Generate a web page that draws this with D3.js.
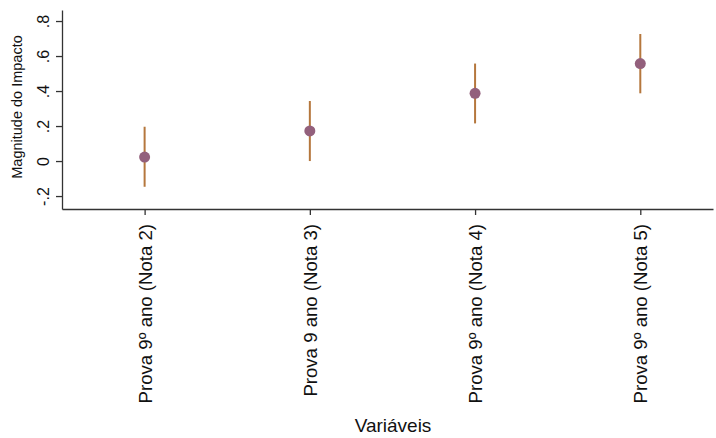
<!DOCTYPE html>
<html><head><meta charset="utf-8">
<script src="https://cdn.jsdelivr.net/npm/d3@7"></script>
<style>body{margin:0;background:#fff}svg{display:block}text{font-family:Arial,"Liberation Sans",sans-serif}</style>
</head><body><svg id="c" width="716" height="438"></svg>
<script>
const categories = ["Prova 9º ano (Nota 2)", "Prova 9 ano (Nota 3)", "Prova 9º ano (Nota 4)", "Prova 9º ano (Nota 5)"];
const estimates = [0.023, 0.172, 0.387, 0.557];
const lower = [-0.147, 0.0, 0.215, 0.387];
const upper = [0.196, 0.343, 0.557, 0.726];
const yTicks = [-0.2, 0, 0.2, 0.4, 0.6, 0.8];
const yTickLabels = ["-.2", "0", ".2", ".4", ".6", ".8"];

const svg = d3.select("#c");
const x = d3.scaleLinear().domain([0.5, 4.44]).range([62, 713]);
const y = d3.scaleLinear().domain([-0.274, 0.863]).range([209, 10]);

// y axis
const ya = svg.append("g").attr("transform", "translate(62,0)")
  .call(d3.axisLeft(y).tickValues(yTicks).tickFormat((d, i) => yTickLabels[i]).tickSize(6).tickSizeOuter(0));
ya.select(".domain").attr("stroke", "#333").attr("stroke-width", 1.3);
ya.selectAll(".tick line").attr("stroke", "#333").attr("stroke-width", 1.3);
ya.selectAll(".tick text").attr("font-size", 16).attr("fill", "#111")
  .attr("transform", "rotate(-90)").attr("x", 0).attr("y", -13).attr("dy", 0).attr("text-anchor", "middle");

// x axis
const xa = svg.append("g").attr("transform", "translate(0,209)")
  .call(d3.axisBottom(x).tickValues([1, 2, 3, 4]).tickFormat((d) => categories[d - 1]).tickSize(6).tickSizeOuter(0));
xa.select(".domain").attr("stroke", "#333").attr("stroke-width", 1.3);
xa.selectAll(".tick line").attr("stroke", "#333").attr("stroke-width", 1.3);
xa.selectAll(".tick text").attr("font-size", 18.6).attr("fill", "#111")
  .attr("transform", "rotate(-90)").attr("x", -15).attr("y", 0).attr("dy", "0.35em").attr("text-anchor", "end");

// axis titles
svg.append("text").attr("transform", "translate(22,107) rotate(-90)").attr("text-anchor", "middle")
  .attr("font-size", 14.5).attr("fill", "#111").text("Magnitude do Impacto");
svg.append("text").attr("x", 393).attr("y", 432).attr("text-anchor", "middle")
  .attr("font-size", 19).attr("fill", "#111").text("Variáveis");

// CI lines
svg.append("g").selectAll("line").data(estimates).join("line")
  .attr("x1", (d, i) => x(i + 1)).attr("x2", (d, i) => x(i + 1))
  .attr("y1", (d, i) => y(lower[i])).attr("y2", (d, i) => y(upper[i]))
  .attr("stroke", "#b5773d").attr("stroke-width", 2);
// points
svg.append("g").selectAll("circle").data(estimates).join("circle")
  .attr("cx", (d, i) => x(i + 1)).attr("cy", d => y(d)).attr("r", 5.5)
  .attr("fill", "#93607c");
</script></body></html>
